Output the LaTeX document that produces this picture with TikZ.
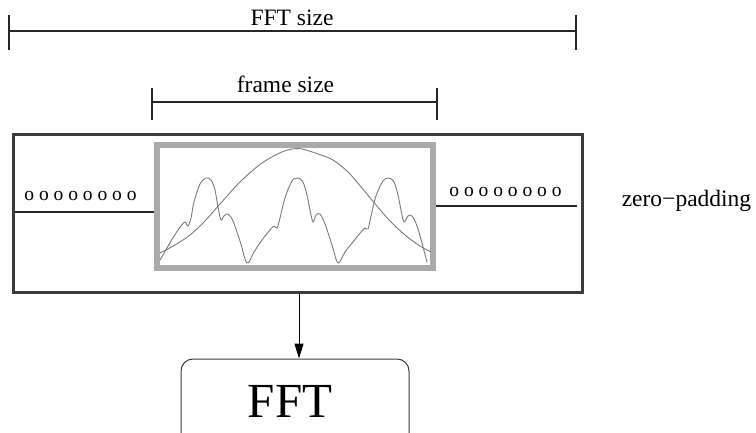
\documentclass[tikz,border=0pt]{standalone}
\usepackage{fontspec}
\setmainfont{Liberation Serif}
\usetikzlibrary{arrows.meta}
\definecolor{framedark}{HTML}{3C3C3C}
\definecolor{windowgray}{HTML}{AAAAAA}
\definecolor{curvegray}{HTML}{7A7A7A}
\tikzset{
  dimbar/.style={line width=1.1pt, draw=black!85},
  lbl/.style={inner sep=0pt, anchor=base, font=\fontsize{23.5}{28}\selectfont},
  zeros/.style={inner sep=0pt, anchor=base, font=\fontsize{19.5}{24}\selectfont},
  outerbox/.style={draw=framedark, line width=3pt, minimum width=569pt, minimum height=157pt, inner sep=0pt},
  windowbox/.style={draw=windowgray, line width=6pt, minimum width=276pt, minimum height=123pt, inner sep=0pt},
  fftbox/.style={draw=framedark, line width=1pt, rounded corners=12pt, minimum width=228pt, minimum height=96pt, inner sep=0pt},
  signal/.style={draw=curvegray, line width=0.9pt, smooth, tension=0.55},
  padline/.style={line width=1.2pt, draw=black!85},
}
\begin{document}
\begin{tikzpicture}[x=1pt, y=-1pt]
\useasboundingbox (0,0) rectangle (756,433);

% FFT size dimension bar
\coordinate (fa) at (9,31);
\coordinate (fb) at (576,31);
\draw[dimbar] (fa) -- (fb);
\draw[dimbar] ([yshift=16pt]fa) -- ([yshift=-19pt]fa);
\draw[dimbar] ([yshift=16pt]fb) -- ([yshift=-19pt]fb);
\node[lbl] (fftsize) at (292,26) {FFT size};

% frame size dimension bar
\coordinate (ra) at (152,102);
\coordinate (rb) at (437,102);
\draw[dimbar] (ra) -- (rb);
\draw[dimbar] ([yshift=14pt]ra) -- ([yshift=-18pt]ra);
\draw[dimbar] ([yshift=14pt]rb) -- ([yshift=-18pt]rb);
\node[lbl] (framesize) at (285.5,93) {frame size};

% padded buffer and analysis window
\node[outerbox] (buffer) at (297.5,213.5) {};
\node[windowbox] (window) at (295,206.5) {};

% zero samples on both sides
\coordinate (zl) at (15,212);
\coordinate (zr) at (577,206);
\draw[padline] (zl) -- (zl -| window.west);
\draw[padline] (window.east |- zr) -- (zr);
\node[zeros] (zerosl) at (80.5,201) {o o o o o o o o};
\node[zeros] (zerosr) at (505.5,197) {o o o o o o o o};
\node[lbl] (zpad) at (686.5,207) {zero−padding};

% window shape
\draw[signal] plot coordinates {(160,253) (175,245) (190,235) (205,221) (220,204) (240,182) (258,166) (270,158) (282,152) (292,149) (302,149) (318,154) (333,160) (348,172) (362,188) (376,205) (390,221) (405,235) (420,246) (431,252)};

% windowed signal
\draw[signal] plot coordinates {(160,260) (167,248) (174,236) (181,226) (185,222) (188,226) (191,218) (194,202) (200,184) (206,178) (211,180) (215,190) (218,207) (221,220) (224,216) (228,214) (233,221) (240,241) (247,263) (254,252) (262,240) (270,230) (274,226) (277,228) (280,218) (285,198) (292,181) (298,178) (303,182) (307,195) (310,210) (313,222) (316,215) (320,214) (325,224) (332,245) (338,263) (345,252) (353,242) (361,232) (365,228) (368,229) (371,216) (376,196) (383,181) (389,178) (394,182) (398,195) (401,210) (404,222) (408,216) (412,216) (417,226) (422,243) (427,262)};

% FFT block
\node[fftbox] (fft) at (295,407) {};
\node[inner sep=0pt, anchor=base, font=\fontsize{49}{58}\selectfont] (fftlabel) at (290,417) {FFT};

% data flow into the FFT
\coordinate (ax) at (299,0);
\draw[line width=1pt, -{Triangle[length=15pt, width=9pt]}] (buffer.south -| ax) -- (fft.north -| ax);
\end{tikzpicture}
\end{document}
